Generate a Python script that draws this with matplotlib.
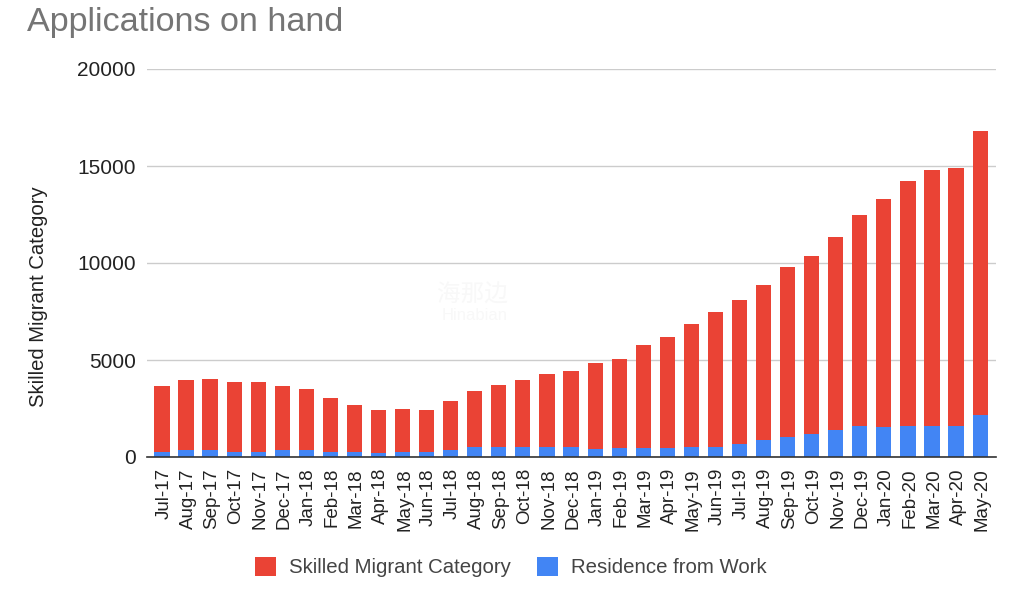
import matplotlib
matplotlib.use("Agg")
import matplotlib.pyplot as plt
from matplotlib.transforms import ScaledTranslation

months = ["Jul-17", "Aug-17", "Sep-17", "Oct-17", "Nov-17", "Dec-17", "Jan-18", "Feb-18", "Mar-18",
          "Apr-18", "May-18", "Jun-18", "Jul-18", "Aug-18", "Sep-18", "Oct-18", "Nov-18", "Dec-18",
          "Jan-19", "Feb-19", "Mar-19", "Apr-19", "May-19", "Jun-19", "Jul-19", "Aug-19", "Sep-19",
          "Oct-19", "Nov-19", "Dec-19", "Jan-20", "Feb-20", "Mar-20", "Apr-20", "May-20"]
residence = [250, 380, 380, 280, 280, 380, 380, 280, 250, 230, 250, 250, 380, 500, 500, 500, 500, 500,
             430, 450, 450, 450, 500, 530, 690, 890, 1030, 1170, 1410, 1580, 1560, 1580, 1580, 1580, 2150]
totals = [3650, 3950, 4030, 3850, 3850, 3680, 3500, 3030, 2700, 2400, 2500, 2420, 2870, 3380, 3730,
          3950, 4280, 4430, 4830, 5070, 5780, 6200, 6850, 7450, 8080, 8880, 9780, 10380, 11350,
          12480, 13280, 14250, 14780, 14880, 16800]
skilled = [t - r for t, r in zip(totals, residence)]
y_ticks = [0, 5000, 10000, 15000, 20000]

plt.rcParams["font.family"] = ["Liberation Sans", "Noto Sans CJK SC", "DejaVu Sans"]

fig = plt.figure(figsize=(10.22, 6.05), dpi=100)
ax = fig.add_axes([147 / 1022, 1 - 457 / 605, 849 / 1022, 388 / 605])

x = list(range(len(months)))
ax.bar(x, skilled, bottom=residence, width=0.63, color="#ea4335", label="Skilled Migrant Category", zorder=3)
ax.bar(x, residence, width=0.63, color="#4285f4", label="Residence from Work", zorder=3)

ax.set_xlim(-0.62, 34.66)
ax.set_ylim(0, 20000)
ax.set_yticks(y_ticks)
ax.set_xticks(x)
ax.set_xticklabels(months, rotation=90, fontsize=13.5, color="#222222")
ax.tick_params(axis="x", length=0, pad=8)
ax.tick_params(axis="y", length=0, pad=8, labelsize=15, labelcolor="#222222")
ax.grid(axis="y", color="#cccccc", linewidth=1, zorder=0)
for side in ["top", "left", "right"]:
    ax.spines[side].set_visible(False)
ax.spines["bottom"].set_color("#333333")
ax.spines["bottom"].set_linewidth(1.2)
ax.spines["bottom"].set_zorder(4)

# month labels sit a little right of the bar centres
shift = ScaledTranslation(2 / 100, 0, fig.dpi_scale_trans)
for lab in ax.get_xticklabels():
    lab.set_transform(lab.get_transform() + shift)

fig.text(27 / 1022, 1 - 23 / 605, "Applications on hand", fontsize=24.6, color="#757575", va="center")
fig.text(39 / 1022, 1 - 297 / 605, "Skilled Migrant Category", fontsize=14.6, color="#222222",
         rotation=90, va="center", ha="center")

# faint watermark in the middle of the plot
fig.text(472 / 1022, 1 - 296 / 605, "海那边", fontsize=17, color="#f8f8f8", ha="center", va="center")
fig.text(475 / 1022, 1 - 316 / 605, "Hinabian", fontsize=12, color="#f8f8f8", ha="center", va="center")

fig.legend(loc="center", bbox_to_anchor=(511 / 1022, 1 - 567 / 605), ncols=2, frameon=False,
           fontsize=14.7, handlelength=1, handleheight=1.1, handletextpad=0.65, columnspacing=1.3,
           labelcolor="#444444")

fig.savefig("out.png", dpi=100)
